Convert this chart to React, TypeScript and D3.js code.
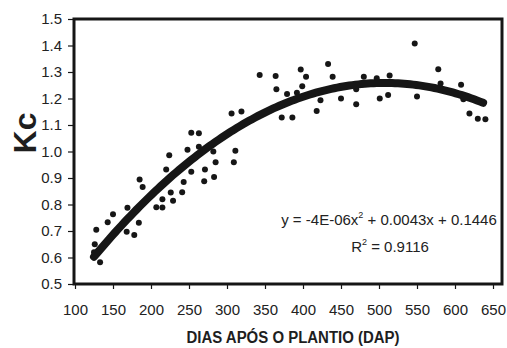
import { useEffect, useRef } from "react";
import * as d3 from "d3";

// days after planting (DAP)
const days = [
    125, 126, 128, 133, 143, 150, 168, 169, 178, 184,
    185, 189, 207, 215, 215, 220, 224, 226, 229, 241,
    243, 248, 253, 253, 263, 263, 271, 270, 282, 283,
    285, 306, 309, 311, 319, 343, 364, 365, 372, 379,
    386, 392, 397, 399, 404, 418, 423, 433, 439, 450,
    470, 470, 480, 497, 501, 512, 514, 547, 550, 578,
    581, 608, 611, 619, 630, 640
];
// Kc values, same order
const kc = [
    0.62, 0.65, 0.705, 0.582, 0.733, 0.763, 0.697, 0.788, 0.685, 0.731,
    0.894, 0.866, 0.79, 0.789, 0.82, 0.932, 0.986, 0.845, 0.814, 0.846,
    0.885, 1.007, 0.924, 1.071, 1.069, 1.018, 0.932, 0.888, 1.0, 0.904,
    0.959, 1.143, 0.959, 1.003, 1.151, 1.289, 1.285, 1.235, 1.128, 1.217,
    1.128, 1.222, 1.309, 1.246, 1.282, 1.153, 1.193, 1.33, 1.282, 1.2,
    1.178, 1.235, 1.282, 1.276, 1.2, 1.213, 1.287, 1.408, 1.208, 1.31,
    1.257, 1.252, 1.197, 1.143, 1.124, 1.122
];

const xTicks = [100, 150, 200, 250, 300, 350, 400, 450, 500, 550, 600, 650];
const yTicks = [0.5, 0.6, 0.7, 0.8, 0.9, 1.0, 1.1, 1.2, 1.3, 1.4, 1.5];

const yTitle = "Kc";
const xTitle = "DIAS APÓS O PLANTIO (DAP)";
const eqParts = ["y = -4E-06x", "2", " + 0.0043x + 0.1446"];
const r2Parts = ["R", "2", " = 0.9116"];

// least squares fit of a 2nd order polynomial (the Excel trendline)
function fitQuadratic(xs: number[], ys: number[]) {
    const n = xs.length;
    let s1 = 0, s2 = 0, s3 = 0, s4 = 0, t0 = 0, t1 = 0, t2 = 0;
    for (let i = 0; i < n; i++) {
        const x = xs[i], y = ys[i];
        s1 += x; s2 += x * x; s3 += x * x * x; s4 += x * x * x * x;
        t0 += y; t1 += x * y; t2 += x * x * y;
    }
    const m = [[n, s1, s2, t0], [s1, s2, s3, t1], [s2, s3, s4, t2]];
    for (let c = 0; c < 3; c++) {
        for (let r = c + 1; r < 3; r++) {
            const f = m[r][c] / m[c][c];
            for (let k = c; k < 4; k++) m[r][k] -= f * m[c][k];
        }
    }
    const a2 = m[2][3] / m[2][2];
    const a1 = (m[1][3] - m[1][2] * a2) / m[1][1];
    const a0 = (m[0][3] - m[0][1] * a1 - m[0][2] * a2) / m[0][0];
    return (x: number) => a0 + a1 * x + a2 * x * x;
}

export default function App() {
    const ref = useRef<HTMLDivElement>(null);

    useEffect(() => {
        document.body.style.margin = "0";
        const width = 507;
        const height = 348;
        const margin = { top: 19, right: 5, bottom: 64, left: 74 };
        const ink = "#161616";
        const font = "'Liberation Sans', Arial, sans-serif";

        const x = d3.scaleLinear().domain([100, 650]).range([75, 493]);
        const y = d3.scaleLinear().domain([0.5, 1.5]).range([height - margin.bottom, margin.top]);

        const svg = d3.select(ref.current)
            .append("svg")
            .attr("width", width)
            .attr("height", height)
            .style("display", "block")
            .style("background", "#fff");

        // y axis
        const yAxis = svg.append("g")
            .attr("transform", `translate(${margin.left},0)`)
            .call(d3.axisLeft(y).tickValues(yTicks).tickFormat(d3.format(".1f")).tickSize(6).tickPadding(6));
        yAxis.select(".domain").remove();
        yAxis.selectAll("line").attr("stroke", ink).attr("stroke-width", 1.2);
        yAxis.selectAll("text")
            .attr("font-family", font)
            .attr("font-size", 15)
            .attr("fill", "#222");

        // x axis
        const xAxis = svg.append("g")
            .attr("transform", `translate(0,${height - margin.bottom})`)
            .call(d3.axisBottom(x).tickValues(xTicks).tickFormat(d3.format("d")).tickSize(5));
        xAxis.select(".domain").remove();
        xAxis.selectAll("line").attr("stroke", ink).attr("stroke-width", 1.2);
        xAxis.selectAll("text")
            .attr("font-family", font)
            .attr("font-size", 15)
            .attr("fill", "#222")
            .attr("y", 31)
            .attr("dy", null);

        // plot frame
        svg.append("rect")
            .attr("x", margin.left)
            .attr("y", margin.top)
            .attr("width", width - margin.left - margin.right)
            .attr("height", height - margin.top - margin.bottom)
            .attr("fill", "none")
            .attr("stroke", ink)
            .attr("stroke-width", 3);

        // observations
        svg.append("g")
            .selectAll("circle")
            .data(days)
            .join("circle")
            .attr("cx", d => x(d))
            .attr("cy", (d, i) => y(kc[i]))
            .attr("r", 3)
            .attr("fill", ink);

        // polynomial trendline
        const f = fitQuadratic(days, kc);
        const xs = d3.range(d3.min(days)!, d3.max(days)! + 0.1, 4);
        svg.append("path")
            .datum(xs)
            .attr("d", d3.line<number>().x(d => x(d)).y(d => y(f(d))))
            .attr("fill", "none")
            .attr("stroke", ink)
            .attr("stroke-width", 8)
            .attr("stroke-linecap", "round");

        // equation
        const eq = svg.append("text")
            .attr("x", 389)
            .attr("y", 225)
            .attr("text-anchor", "middle")
            .attr("font-family", font)
            .attr("font-size", 15)
            .attr("fill", "#222");
        eq.append("tspan").text(eqParts[0]);
        eq.append("tspan").attr("font-size", 9).attr("dy", -7).text(eqParts[1]);
        eq.append("tspan").attr("dy", 7).text(eqParts[2]);

        const r2 = svg.append("text")
            .attr("x", 390)
            .attr("y", 252)
            .attr("text-anchor", "middle")
            .attr("font-family", font)
            .attr("font-size", 15)
            .attr("fill", "#222");
        r2.append("tspan").text(r2Parts[0]);
        r2.append("tspan").attr("font-size", 9).attr("dy", -7).text(r2Parts[1]);
        r2.append("tspan").attr("dy", 7).text(r2Parts[2]);

        // axis titles
        svg.append("text")
            .attr("transform", "translate(36,133) rotate(-90)")
            .attr("text-anchor", "middle")
            .attr("font-family", font)
            .attr("font-weight", "bold")
            .attr("font-size", 32)
            .attr("fill", "#1e1e1e")
            .text(yTitle);

        svg.append("text")
            .attr("x", 293)
            .attr("y", 343)
            .attr("text-anchor", "middle")
            .attr("font-family", font)
            .attr("font-weight", "bold")
            .attr("font-size", 16)
            .attr("textLength", 213)
            .attr("lengthAdjust", "spacingAndGlyphs")
            .attr("fill", "#1e1e1e")
            .text(xTitle);

        return () => {
            d3.select(ref.current).selectAll("*").remove();
        };
    });

    return <div ref={ref} />;
}
